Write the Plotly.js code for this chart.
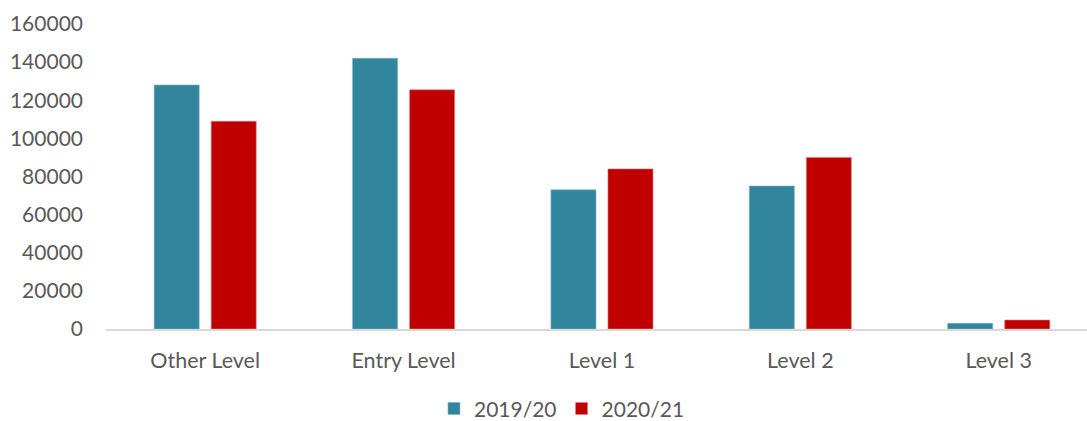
<!DOCTYPE html>
<html>
<head>
<meta charset="utf-8">
<script src="https://cdn.plot.ly/plotly-3.0.1.min.js"></script>
<style>
  html, body { margin: 0; padding: 0; background: #ffffff; }
  #chart { width: 1087px; height: 421px; }
</style>
</head>
<body>
<div id="chart"></div>
<script>
// Learners by level, two academic years
const levels = ['Other Level', 'Entry Level', 'Level 1', 'Level 2', 'Level 3'];
const seriesNames = ['2019/20', '2020/21'];
const values1920 = [128000, 142000, 73000, 75000, 3000];
const values2021 = [109000, 125500, 84000, 90000, 4700];
const yTicks = [0, 20000, 40000, 60000, 80000, 100000, 120000, 140000, 160000];

const textColor = '#595959';
const fontFamily = 'Lato, "Open Sans", sans-serif';

const traces = [
  {
    type: 'bar',
    name: seriesNames[0],
    x: levels,
    y: values1920,
    marker: { color: '#31859C', line: { color: '#7fb3c2', width: 0.6 } },
    hoverinfo: 'x+y+name'
  },
  {
    type: 'bar',
    name: seriesNames[1],
    x: levels,
    y: values2021,
    marker: { color: '#C00000', line: { color: '#e08080', width: 0.6 } },
    hoverinfo: 'x+y+name'
  }
];

const layout = {
  width: 1087,
  height: 421,
  paper_bgcolor: '#ffffff',
  plot_bgcolor: '#ffffff',
  margin: { l: 106, r: 0, t: 24, b: 92, pad: 0 },
  barmode: 'group',
  bargap: 0.425,
  bargroupgap: 0.21,
  font: { family: fontFamily, size: 21, color: textColor },
  showlegend: true,
  legend: {
    orientation: 'h',
    xref: 'container',
    yref: 'container',
    x: 0.517,
    xanchor: 'center',
    y: 0.029,
    yanchor: 'middle',
    font: { family: fontFamily, size: 21, color: textColor },
    itemwidth: 30,
    traceorder: 'normal'
  },
  xaxis: {
    type: 'category',
    range: [-0.5, 4.445],
    showgrid: false,
    zeroline: false,
    showline: true,
    linecolor: '#d9d9d9',
    linewidth: 1.5,
    ticks: '',
    ticklabelstandoff: 12,
    tickfont: { family: fontFamily, size: 21.5, color: textColor }
  },
  yaxis: {
    range: [0, 160000],
    tickmode: 'array',
    tickvals: yTicks,
    ticktext: yTicks.map(String),
    showgrid: false,
    zeroline: false,
    showline: false,
    ticks: '',
    ticklabelstandoff: 22,
    tickfont: { family: fontFamily, size: 21, color: textColor }
  }
};

Plotly.newPlot('chart', traces, layout, { displayModeBar: false, staticPlot: true });
</script>
</body>
</html>
